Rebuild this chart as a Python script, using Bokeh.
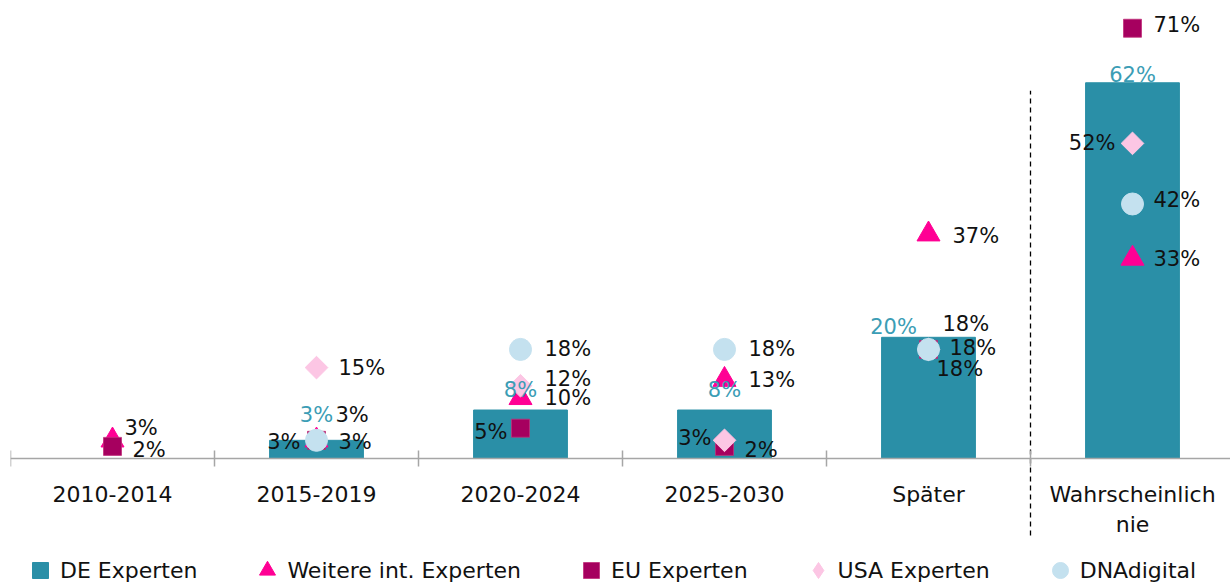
import numpy as np
from bokeh.plotting import figure
from bokeh.models import (ColumnDataSource, Range1d, LinearAxis, FixedTicker,
                          Legend, LegendItem)
from bokeh.core.properties import value
from bokeh.embed import file_html
from bokeh.resources import INLINE

# ---------------- data ----------------
categories = ["2010-2014", "2015-2019", "2020-2024", "2025-2030", "Später", "Wahrscheinlich\nnie"]
de_experten = [0, 3, 8, 8, 20, 62]
weitere_int = [3, 3, 10, 13, 37, 33]
eu_experten = [2, 3, 5, 2, 18, 71]
usa_experten = [np.nan, 15, 12, 3, 18, 52]
dnadigital = [np.nan, 3, 18, 18, 18, 42]

# ---------------- label placement (style, pixels) ----------------
de_lbl = dict(dx=[0, 0, 0, 0, -35, 0], dy=[0, -25, -20, -20, -10, -8],
              align=["center"] * 6)
tri_lbl = dict(dx=[12, 19, 24, 24, 24, 21], dy=[-12, -25, 0, 0, 2, 0],
               align=["left"] * 6)
eu_lbl = dict(dx=[20, -16, -13, 20, 8, 21], dy=[4, 2, 4, 4, 20, -3],
              align=["left", "right", "right", "left", "left", "left"])
usa_lbl = dict(dx=[0, 22, 24, -13, 14, -17], dy=[0, 0, -7, -2, -25, 0],
               align=["left", "left", "left", "right", "left", "right"])
dna_lbl = dict(dx=[0, 22, 24, 24, 21, 21], dy=[0, 2, 0, 0, -1, -4],
               align=["left"] * 6)

TEAL = "#2a8fa7"
TEAL_TXT = "#3b9db5"
MAGENTA = "#ff0094"
EU_COL = "#a6005f"
USA_COL = "#fcc6e4"
DNA_COL = "#c4e1ef"
FONT = "DejaVu Sans"

xs = [i + 0.5 for i in range(len(categories))]

def valid(v):
    return not (v is None or (isinstance(v, float) and np.isnan(v)) or v == 0)

def src(vals):
    return ColumnDataSource(dict(x=xs, y=vals))

def lbl_src(vals, lbl):
    idx = [i for i, v in enumerate(vals) if valid(v)]
    return ColumnDataSource(dict(x=[xs[i] for i in idx], y=[vals[i] for i in idx],
                                 t=[f"{vals[i]:.0f}%" for i in idx],
                                 dx=[lbl["dx"][i] for i in idx], dy=[lbl["dy"][i] for i in idx],
                                 align=[lbl["align"][i] for i in idx]))

# pixel geometry: canvas 1230x583, baseline at y 458, 6.06 px per %
PX = 6.06
W, H = 1230, 583
base = 458
left = 10
y_end = base / PX
y_start = -(H - base) / PX

p = figure(width=W, height=H, x_range=Range1d(0, (W - left) / 204.0),
           y_range=Range1d(y_start, y_end),
           output_backend="svg", toolbar_location=None, x_axis_type=None, y_axis_type=None,
           min_border_left=left, min_border_right=0, min_border_top=0, min_border_bottom=0)
p.outline_line_color = None
p.background_fill_color = "white"
p.border_fill_color = "white"

# bars
r_bar = p.vbar(x="x", top="y", bottom=0, width=0.46, source=src(de_experten), color=TEAL)

# dashed separator
p.segment(x0=[5.0], y0=[-12.7], x1=[5.0], y1=[60.7], line_color="black",
          line_width=1.3, line_dash="5 4")

# category axis fixed at 0: labels at centres, minor ticks at boundaries
ax = LinearAxis(fixed_location=0,
                ticker=FixedTicker(ticks=xs, minor_ticks=list(range(7))),
                major_label_overrides={x: c for x, c in zip(xs, categories)},
                major_tick_line_color=None, major_tick_in=0, major_tick_out=0,
                minor_tick_in=8, minor_tick_out=8, minor_tick_line_color="#a6a6a6",
                minor_tick_line_width=1.5,
                axis_line_color="#a6a6a6", axis_line_width=1.5,
                major_label_standoff=15,
                major_label_text_font=FONT, major_label_text_font_size="22px",
                major_label_text_color="#111111", major_label_text_line_height=1.22)
p.add_layout(ax, "below")

# markers
r_tri = p.scatter(x="x", y="y", source=src(weitere_int), marker="triangle", size=23, color=MAGENTA)
r_eu = p.scatter(x="x", y="y", source=src(eu_experten), marker="square", size=18,
                 fill_color=EU_COL, line_color="#c0307a", line_width=0.8)
r_usa = p.scatter(x="x", y="y", source=src(usa_experten), marker="square", angle=np.pi / 4,
                  size=16, color=USA_COL)
r_dna = p.scatter(x="x", y="y", source=src(dnadigital), marker="circle", size=22, color=DNA_COL)

# labels
def labels(vals, lbl, color, size="21px"):
    p.text(x="x", y="y", text="t", source=lbl_src(vals, lbl), x_offset="dx", y_offset="dy",
           text_align="align", text_baseline="middle", text_font=value(FONT),
           text_font_size=size, text_color=color)

labels(de_experten, de_lbl, TEAL_TXT)
labels(weitere_int, tri_lbl, "#111111")
labels(eu_experten, eu_lbl, "#111111")
labels(usa_experten, usa_lbl, "#111111")
labels(dnadigital, dna_lbl, "#111111")

# legend swatches (zero-size proxies on the series data)
r_de_leg = p.scatter(x="x", y="y", source=src(de_experten), marker="square", size=0, color=TEAL)
r_usa_leg = p.scatter(x="x", y="y", source=src(usa_experten), marker="diamond", size=0,
                      color=USA_COL)

legend = Legend(items=[LegendItem(label="DE Experten", renderers=[r_de_leg]),
                       LegendItem(label="Weitere int. Experten", renderers=[r_tri]),
                       LegendItem(label="EU Experten", renderers=[r_eu]),
                       LegendItem(label="USA Experten", renderers=[r_usa_leg]),
                       LegendItem(label="DNAdigital", renderers=[r_dna])],
                orientation="horizontal", location=(10, -7), glyph_width=40, glyph_height=40,
                label_standoff=0, spacing=50, padding=0, margin=0,
                border_line_color=None, background_fill_alpha=0,
                label_text_font=FONT, label_text_font_size="22px", label_text_color="#111111")
p.add_layout(legend, "center")

open("out.html", "w").write(file_html(p, INLINE))
